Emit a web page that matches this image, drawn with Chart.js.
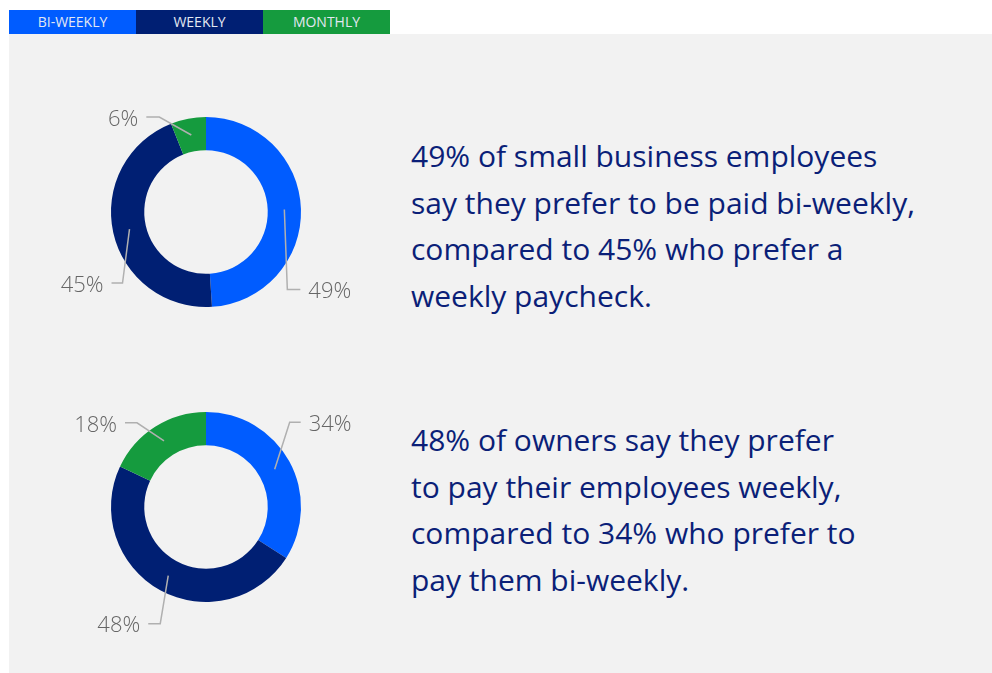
<!DOCTYPE html>
<html>
<head>
<meta charset="utf-8">
<script src="https://cdn.jsdelivr.net/npm/chart.js@4"></script>
<style>
  body { margin: 0; background: #fff; width: 992px; height: 673px; position: relative; overflow: hidden; font-family: "Open Sans", sans-serif; }
  .panel { position: absolute; left: 9px; top: 34px; width: 983px; height: 639px; background: #f2f2f2; }
  .legend { position: absolute; left: 9px; top: 10px; height: 24px; display: flex; }
  .legend div { width: 127px; height: 24px; line-height: 24px; text-align: center; color: #e3e8f2; font-size: 14px; }
  .chart-box { position: absolute; left: 40px; width: 332px; height: 280px; }
  .blurb { position: absolute; left: 411px; color: #0b1f78; font-size: 30px; line-height: 46.5px; white-space: nowrap; }
</style>
</head>
<body>
<div class="panel"></div>
<div class="legend" id="legend"></div>
<div class="chart-box" style="top:72px"><canvas id="employees-chart"></canvas></div>
<div class="chart-box" style="top:367px"><canvas id="owners-chart"></canvas></div>
<div class="blurb" style="top:133px">49% of small business employees<br>say they prefer to be paid bi-weekly,<br>compared to 45% who prefer a<br>weekly paycheck.</div>
<div class="blurb" style="top:417px">48% of owners say they prefer<br>to pay their employees weekly,<br>compared to 34% who prefer to<br>pay them bi-weekly.</div>

<script>
/* pay frequency preference donuts */

const categories = ['BI-WEEKLY', 'WEEKLY', 'MONTHLY'];
const colors = ['#005cff', '#001f73', '#159b3e'];
const employeeValues = [49, 45, 6];
const ownerValues = [34, 48, 18];

// leader line shape per slice: elbow offset from slice midpoint, then horizontal run
const employeeLeaders = [
  { dx: 3, dy: 80, run: 13 },
  { dx: -7, dy: 54, run: -11 },
  { dx: -32, dy: -18, run: -13 }
];
const ownerLeaders = [
  { dx: 15, dy: -47, run: 11 },
  { dx: -8, dy: 48, run: -12 },
  { dx: -27, dy: -18, run: -12 }
];

document.getElementById('legend').innerHTML = categories
  .map((c, i) => `<div style="background:${colors[i]}">${c}</div>`).join('');

const leaderPlugin = {
  id: 'leaders',
  afterDatasetsDraw(chart) {
    const ctx = chart.ctx;
    const leaders = chart.options.plugins.leaders.shapes;
    const values = chart.data.datasets[0].data;
    chart.getDatasetMeta(0).data.forEach((arc, i) => {
      const p = arc.getProps(['x', 'y', 'startAngle', 'endAngle', 'innerRadius', 'outerRadius'], true);
      const mid = (p.startAngle + p.endAngle) / 2;
      const r = (p.innerRadius + p.outerRadius) / 2;
      const sx = p.x + Math.cos(mid) * r;
      const sy = p.y + Math.sin(mid) * r;
      const l = leaders[i];
      const ex = sx + l.dx, ey = sy + l.dy;
      ctx.save();
      ctx.strokeStyle = '#b0b0b0';
      ctx.lineWidth = 1.5;
      ctx.beginPath();
      ctx.moveTo(sx, sy);
      ctx.lineTo(ex, ey);
      ctx.lineTo(ex + l.run, ey);
      ctx.stroke();
      ctx.fillStyle = '#666';
      ctx.font = '300 22px "Open Sans", sans-serif';
      ctx.textBaseline = 'middle';
      ctx.textAlign = l.run > 0 ? 'left' : 'right';
      ctx.fillText(values[i] + '%', ex + l.run + (l.run > 0 ? 8 : -8), ey + 2.5);
      ctx.restore();
    });
  }
};

function makeDonut(id, values, shapes) {
  return new Chart(document.getElementById(id), {
    type: 'doughnut',
    data: {
      labels: categories,
      datasets: [{ data: values, backgroundColor: colors, borderWidth: 0 }]
    },
    options: {
      responsive: true,
      maintainAspectRatio: false,
      animation: false,
      cutout: '65%',
      layout: { padding: { left: 71, right: 71, top: 45, bottom: 45 } },
      plugins: {
        legend: { display: false },
        tooltip: { enabled: false },
        leaders: { shapes }
      }
    },
    plugins: [leaderPlugin]
  });
}

makeDonut('employees-chart', employeeValues, employeeLeaders);
makeDonut('owners-chart', ownerValues, ownerLeaders);
</script>
</body>
</html>
